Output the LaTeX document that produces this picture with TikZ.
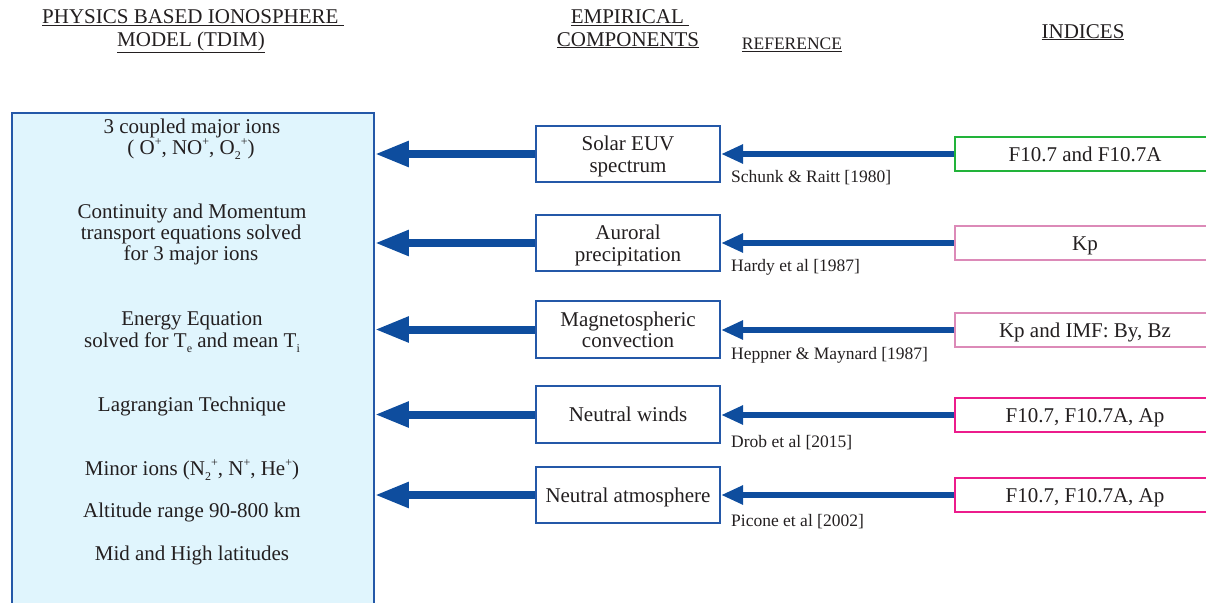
\documentclass[tikz,border=0pt]{standalone}
\usepackage{fontspec}
\setmainfont{Liberation Serif}
\usetikzlibrary{arrows.meta}
\definecolor{txt}{HTML}{231F20}
\definecolor{boxblue}{HTML}{2458A8}
\definecolor{arrblue}{HTML}{0E4D9E}
\definecolor{lightfill}{HTML}{E0F5FD}
\definecolor{idxgreen}{HTML}{22B33A}
\definecolor{idxpink}{HTML}{DC8AB8}
\definecolor{idxmag}{HTML}{EC1C8C}
\newcommand\ionsup[1]{\raisebox{0.40em}{\fontsize{12}{12}\selectfont #1}}
\newcommand\ionsub[1]{\raisebox{-0.25em}{\fontsize{12}{12}\selectfont #1}}
\tikzset{
  mainfont/.style={font=\fontsize{21}{21.5}\selectfont, text=txt},
  line/.style={mainfont, anchor=base, inner sep=0pt},
  head/.style={mainfont, anchor=base, inner sep=0pt},
  reflabel/.style={font=\fontsize{17.5}{19}\selectfont, text=txt, anchor=base west, inner sep=0pt},
  tdim/.style={draw=boxblue, line width=1.8pt, fill=lightfill, minimum width=362, minimum height=510, anchor=north west, inner sep=0pt},
  compbox/.style={draw=boxblue, line width=1.6pt, fill=white, minimum width=184.5, minimum height=56.5, align=center, mainfont, inner sep=0pt, text depth=-4pt},
  onebox/.style={text height=14pt, text depth=-4pt},
  idxbox/.style={line width=1.6pt, fill=white, minimum width=260, minimum height=34.5, mainfont, inner sep=0pt, text height=14pt, text depth=0pt},
  bigarrow/.style={draw=arrblue, line width=8pt, -{Triangle[length=34pt,width=24pt]}},
  smallarrow/.style={draw=arrblue, line width=5.5pt, -{Triangle[length=22pt,width=18pt]}},
}
\begin{document}
\begin{tikzpicture}[x=1pt,y=-1pt]
\useasboundingbox (0,0) rectangle (1206,602);

% headers
\node[head] (h1) at (193,24) {\underline{PHYSICS BASED IONOSPHERE\ }};
\node[head] (h2) at (191,46) {\underline{MODEL (TDIM)}};
\node[head] (h3) at (630,24) {\underline{EMPIRICAL\ }};
\node[head] (h4) at (628,46) {\underline{COMPONENTS}};
\node[reflabel, anchor=base] (h5) at (792,50) {\underline{REFERENCE}};
\node[head] (h6) at (1083,38) {\underline{INDICES}};

% left model box
\node[tdim] (L) at (11,112) {};
\node[line] (t1) at (192,133) {3 coupled major ions};
\node[line] (t2) at (191,154) {( O\ionsup{+}, NO\ionsup{+}, O\ionsub{2}\ionsup{+})};
\node[line] (t3) at (192,218) {Continuity and Momentum};
\node[line] (t4) at (191,239) {transport equations solved};
\node[line] (t5) at (191,260) {for 3 major ions};
\node[line] (t6) at (192,325) {Energy Equation};
\node[line] (t7) at (192,347) {solved for T\ionsub{e} and mean T\ionsub{i}};
\node[line] (t8) at (192,411) {Lagrangian Technique};
\node[line] (t9) at (192,475) {Minor ions (N\ionsub{2}\ionsup{+}, N\ionsup{+}, He\ionsup{+})};
\node[line] (t10) at (192,517) {Altitude range 90-800 km};
\node[line] (t11) at (192,560) {Mid and High latitudes};

% empirical components
\node[compbox] (m1) at (628,154) {Solar EUV\\spectrum};
\node[compbox] (m2) at (628,243) {Auroral\\precipitation};
\node[compbox] (m3) at (628,329.5) {Magnetospheric\\convection};
\node[compbox, onebox] (m4) at (628,414.5) {Neutral winds};
\node[compbox, onebox] (m5) at (628,495) {Neutral atmosphere};

% indices
\node[idxbox, draw=idxgreen] (r1) at (1085,154) {F10.7 and F10.7A};
\node[idxbox, draw=idxpink] (r2) at (1085,243) {Kp};
\node[idxbox, draw=idxpink] (r3) at (1085,330) {Kp and IMF: By, Bz};
\node[idxbox, draw=idxmag] (r4) at (1085,415) {F10.7, F10.7A, Ap};
\node[idxbox, draw=idxmag] (r5) at (1085,495) {F10.7, F10.7A, Ap};

% references
\node[reflabel] (ref1) at (731,182) {Schunk \& Raitt [1980]};
\node[reflabel] (ref2) at (731,271) {Hardy et al [1987]};
\node[reflabel] (ref3) at (731,359) {Heppner \& Maynard [1987]};
\node[reflabel] (ref4) at (731,447) {Drob et al [2015]};
\node[reflabel] (ref5) at (731,526) {Picone et al [2002]};

% arrows
\foreach \i in {1,...,5}{
  \draw[bigarrow] (m\i.west) -- (m\i.west -| L.east);
  \draw[smallarrow] (r\i.west) -- (r\i.west -| m\i.east);
}
\end{tikzpicture}
\end{document}
